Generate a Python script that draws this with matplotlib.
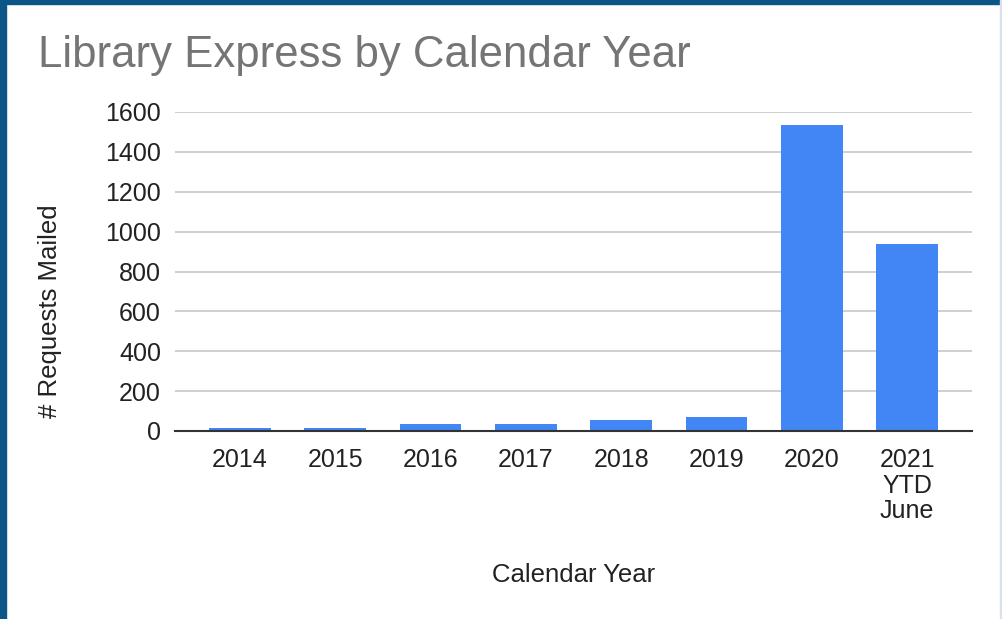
import matplotlib.pyplot as plt
from matplotlib.patches import Rectangle

years = ['2014', '2015', '2016', '2017', '2018', '2019', '2020', '2021\nYTD\nJune']
requests = [17, 15, 36, 36, 57, 68, 1535, 940]

plt.rcParams['font.family'] = ['Liberation Sans', 'DejaVu Sans']

W, H = 1003, 619
fig = plt.figure(figsize=(W / 100, H / 100), dpi=100)
ax = fig.add_axes([175 / W, 1 - 431 / H, (972 - 175) / W, (431 - 112) / H])

x = range(len(years))
ax.bar(x, requests, width=0.65, color='#4285f4', zorder=3)

ax.set_xlim(-0.68, len(years) - 1 + 0.68)
ax.set_ylim(0, 1600)
ax.set_yticks(range(0, 1601, 200))
ax.set_xticks(list(x))
ax.set_xticklabels(years, fontsize=18, color='#222222', linespacing=1.1)
ax.tick_params(axis='y', labelsize=18, labelcolor='#222222', length=0, pad=10)
ax.tick_params(axis='x', length=0, pad=12)
ax.grid(axis='y', color='#cccccc', linewidth=1.3, zorder=0)
for s in ['top', 'right', 'left']:
    ax.spines[s].set_visible(False)
ax.spines['bottom'].set_color('#333333')
ax.spines['bottom'].set_linewidth(1.5)
ax.spines['bottom'].set_zorder(4)

fig.text(38 / W, 1 - 55 / H, 'Library Express by Calendar Year', fontsize=31.5,
         color='#757575', va='center', ha='left')
fig.text(50 / W, 1 - 311 / H, '# Requests Mailed', fontsize=18.5, rotation=90,
         color='#222222', va='center', ha='center')
fig.text(574 / W, 1 - 575 / H, 'Calendar Year', fontsize=18.5,
         color='#222222', va='center', ha='center')

# frame around the screenshot
fig.add_artist(Rectangle((0, 0), 6 / W, 1, transform=fig.transFigure,
                         color='#0b5687', zorder=10))
fig.add_artist(Rectangle((0, 1 - 4 / H), 1, 4 / H, transform=fig.transFigure,
                         color='#0b5687', zorder=10))
fig.add_artist(Rectangle((1000 / W, 0), 2 / W, 1, transform=fig.transFigure,
                         color='#d9e2e8', zorder=10))

fig.savefig('out.png', dpi=100)
